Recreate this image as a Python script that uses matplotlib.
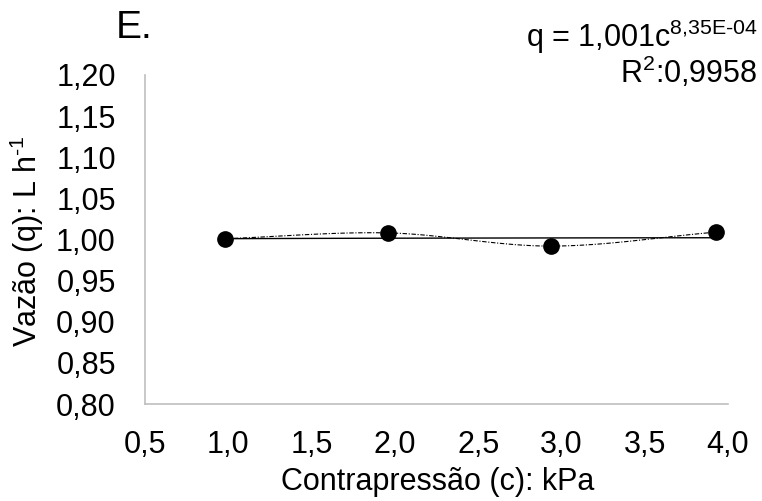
import matplotlib.pyplot as plt
import numpy as np

plt.rcParams['font.family'] = ['Liberation Sans', 'DejaVu Sans']
plt.rcParams['mathtext.fontset'] = 'custom'
plt.rcParams['mathtext.rm'] = 'Liberation Sans'
plt.rcParams['mathtext.default'] = 'regular'

# dados
contrapressao = [0.98, 1.96, 2.94, 3.93]
vazao = [1.001, 1.008, 0.992, 1.009]

# linha de tendência potencial: q = a * c^b
coef_a = 1.001
coef_b = 8.35e-04

xticks = [0.5, 1.0, 1.5, 2.0, 2.5, 3.0, 3.5, 4.0]
yticks = [0.80, 0.85, 0.90, 0.95, 1.00, 1.05, 1.10, 1.15, 1.20]


def suavizar(x, y, n=30):
    # curva suavizada (Catmull-Rom) passando pelos pontos
    x = np.asarray(x, float)
    y = np.asarray(y, float)
    px = np.concatenate([[2 * x[0] - x[1]], x, [2 * x[-1] - x[-2]]])
    py = np.concatenate([[2 * y[0] - y[1]], y, [2 * y[-1] - y[-2]]])
    xs, ys = [], []
    t = np.linspace(0, 1, n)
    for i in range(1, len(px) - 2):
        for p, out in ((px, xs), (py, ys)):
            p0, p1, p2, p3 = p[i - 1], p[i], p[i + 1], p[i + 2]
            out.extend(0.5 * ((2 * p1) + (-p0 + p2) * t
                              + (2 * p0 - 5 * p1 + 4 * p2 - p3) * t ** 2
                              + (-p0 + 3 * p1 - 3 * p2 + p3) * t ** 3))
    return np.array(xs), np.array(ys)


W, H = 762, 501
fig = plt.figure(figsize=(W / 100, H / 100), dpi=100)
ax = fig.add_axes([145 / W, (H - 404) / H, 583 / W, 329 / H])

sx, sy = suavizar(contrapressao, vazao)
ax.plot(sx, sy, color='black', linestyle=(0, (4, 1.5, 1, 1.5)), linewidth=0.8)

xt = np.linspace(contrapressao[0], contrapressao[-1], 50)
ax.plot(xt, coef_a * xt ** coef_b, color='black', linewidth=1.0)

ax.plot(contrapressao, vazao, 'o', color='black', markersize=11, zorder=5)

ax.set_xlim(0.5, 4.0)
ax.set_ylim(0.80, 1.20)
ax.set_xticks(xticks)
ax.set_yticks(yticks)
ax.set_xticklabels([f'{v:.1f}'.replace('.', ',') for v in xticks])
ax.set_yticklabels([f'{v:.2f}'.replace('.', ',') for v in yticks])
ax.tick_params(length=0, labelsize=22)
ax.tick_params(axis='x', pad=18.5)
ax.tick_params(axis='y', pad=21)

for lado in ['top', 'right']:
    ax.spines[lado].set_visible(False)
for lado in ['left', 'bottom']:
    ax.spines[lado].set_color('#bfbfbf')
    ax.spines[lado].set_linewidth(1.2)

fig.text(438 / W, 1 - 490 / H, 'Contrapressão (c): kPa', fontsize=22,
         ha='center', va='baseline')
fig.text(27 / W, 1 - 241 / H, 'Vazão (q): L h$^{\u20101}$', fontsize=22,
         ha='center', va='center', rotation=90)

fig.text(116 / W, 1 - 38 / H, 'E.', fontsize=28, ha='left', va='baseline')

# equação e R² num só texto de duas linhas
equacao = 'q = 1,001c$^{8{,}35E\u201004}$\nR$^{2}$:0,9958'
fig.text(758 / W, 1 - 90 / H, equacao, fontsize=22, ha='right', va='bottom',
         multialignment='right', linespacing=0.95)

fig.savefig('out.png', dpi=100)
